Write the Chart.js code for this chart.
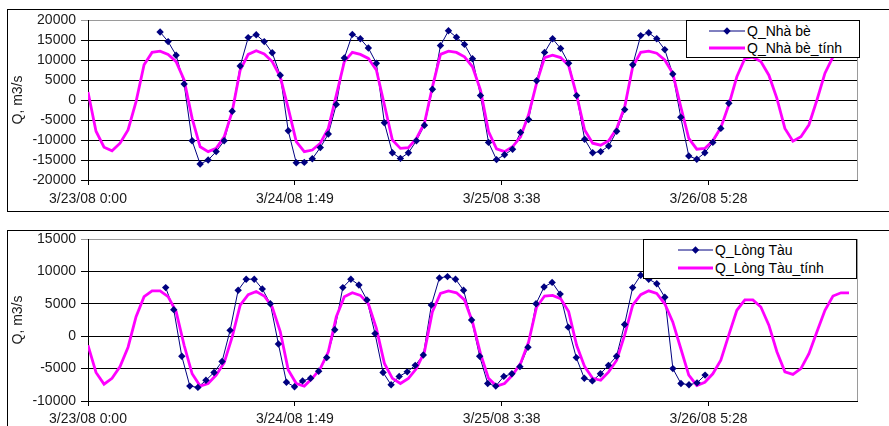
<!DOCTYPE html>
<html><head><meta charset="utf-8">
<script src="https://cdn.jsdelivr.net/npm/chart.js@4/dist/chart.umd.min.js"></script>
<style>
html,body{margin:0;padding:0;background:#fff;width:889px;height:426px;overflow:hidden;font-family:"Liberation Sans",Arial,sans-serif;}
.frame{position:absolute;border:1px solid #000;box-sizing:border-box;}
canvas{position:absolute;left:0;}
.legend{position:absolute;background:#fff;border:1px solid #000;box-sizing:border-box;font-size:14px;color:#000;}
.legend .txt{position:absolute;white-space:nowrap;line-height:16px;height:16px;}
.legend svg{position:absolute;}
</style></head>
<body>
<div class="frame" style="left:7px;top:9px;width:884px;height:203px"></div>
<div class="frame" style="left:7px;top:230px;width:884px;height:210px"></div>
<canvas id="c1" width="889" height="215" style="top:0;width:889px;height:215px"></canvas>
<canvas id="c2" width="889" height="211" style="top:215px;width:889px;height:211px"></canvas>
<script>
// ---- tick labels (x axis, hours from 3/23/08 0:00) ----
const tickHours = [0, 25.8167, 51.6333, 77.4667];
const tickLabels = ['3/23/08 0:00', '3/24/08 1:49', '3/25/08 3:38', '3/26/08 5:28'];

// ---- series names ----
const namesNB = ['Q_Nhà bè', 'Q_Nhà bè_tính'];
const namesLT = ['Q_Lòng Tàu', 'Q_Lòng Tàu_tính'];

// computed series: hourly, hour 0 .. 95
const calcCount = 96;
// Nhà bè computed (m3/s)
const nbCalc = [
  2000, -7800, -11800, -12700, -10800, -7500, -400, 8800, 11900, 12200,
  11400, 9600, 5000, -4600, -11700, -12900, -12100, -9200, -2900, 7500,
  11400, 12300, 11500, 9600, 5800, -2100, -10400, -12900, -12500, -10800,
  -7100, 1200, 9600, 11900, 11400, 10400, 7500, -1200, -10000, -12100,
  -11900, -9600, -5800, 3300, 11400, 12200, 11900, 10800, 8300, 2500,
  -7900, -12200, -12900, -11700, -9200, -3700, 4200, 10600, 11200, 10600,
  8600, 1200, -7500, -10800, -11300, -10200, -7100, -1700, 8300, 11900,
  12200, 11700, 10000, 6700, -1700, -9600, -12300, -12100, -10200, -6900,
  -1200, 5800, 10400, 10700, 9600, 6200, 400, -7100, -10300, -9200,
  -6200, 0, 6700, 10800, 11800, 11500
];
// Nhà bè observed, hourly from hour 9
const nbObsStart = 9, nbObsStep = 1;
const nbObs = [
  17000, 14600, 11200, 4000, -10200, -16000, -15000, -12900, -10200, -2800,
  8500, 15600, 16300, 14600, 11800, 6200, -7700, -15700, -15600, -14700,
  -11900, -8500, -1100, 10500, 16400, 15300, 13000, 9200, -5700, -13200,
  -14600, -13200, -10200, -6300, 2700, 13600, 17300, 15700, 13900, 10300,
  1100, -10600, -14900, -13700, -12300, -8100, -4900, 4800, 11900, 15300,
  12900, 9200, 1100, -9800, -13200, -12900, -11500, -7800, -2400, 8800,
  16100, 16800, 15300, 12600, 6500, -4300, -14000, -14800, -13200, -10600,
  -7100, -800
];
// Lòng Tàu computed (m3/s)
const ltCalc = [
  -1400, -5600, -7400, -6500, -4700, -1700, 3000, 6100, 7000, 7000,
  6100, 3800, -1400, -5800, -7700, -7300, -6000, -4100, -100, 4800,
  6400, 6900, 6200, 4500, 700, -5200, -7300, -7700, -6500, -5000,
  -2400, 3000, 6100, 6700, 6300, 5000, 1200, -4200, -6500, -7300,
  -6500, -5000, -2400, 3800, 6600, 7000, 6700, 5600, 2200, -2700,
  -6500, -7700, -7300, -6000, -4200, -900, 4500, 6200, 6300, 5800,
  3800, -1400, -4700, -6500, -6800, -5500, -3700, 200, 4800, 6400,
  7000, 6600, 5000, 2200, -1900, -6000, -7600, -7100, -5800, -3700,
  200, 4000, 5600, 5600, 4500, 1700, -2400, -5500, -5900, -5000,
  -2700, 700, 4000, 6200, 6700, 6700
];
// Lòng Tàu observed, from hour 9.7
const ltObsStart = 9.7, ltObsStep = 1.005;
const ltObs = [
  7500, 4100, -3100, -7700, -7900, -6800, -5600, -3900, 900, 7100,
  8800, 8800, 7300, 5000, -1200, -7100, -7800, -6900, -6500, -5400,
  -3300, 1000, 7500, 8800, 7900, 5600, 400, -5600, -7500, -6200,
  -5500, -4500, -2900, 4800, 9000, 9200, 8800, 7100, 2500, -3100,
  -7300, -7700, -6200, -5800, -4700, -1700, 5000, 7600, 8300, 6500,
  1400, -3300, -6500, -6900, -5800, -4500, -3100, 1800, 7500, 9400,
  8800, 8100, 6000, -5000, -7300, -7500, -7200, -6000
];

const FONT = 'Liberation Sans, Arial, sans-serif';
Chart.defaults.font.family = FONT;

function toPts(start, step, vals) { return vals.map((v, i) => ({x: start + i * step, y: v})); }

const grayBorder = {
  id: 'grayBorder',
  beforeDatasetsDraw(chart) {
    const a = chart.chartArea, ctx = chart.ctx;
    ctx.save();
    ctx.strokeStyle = '#9a9a9a'; ctx.lineWidth = 1;
    ctx.beginPath();
    ctx.moveTo(Math.round(a.right) + 0.5, a.top);
    ctx.lineTo(Math.round(a.right) + 0.5, a.bottom);
    ctx.stroke();
    ctx.restore();
  }
};

function makeChart(canvas, obs, calc, cfg) {
  return new Chart(canvas, {
    type: 'line',
    data: { datasets: [
      { data: obs, showLine: false, pointStyle: 'rectRot', pointRadius: 3.7, pointHoverRadius: 3.7,
        pointBackgroundColor: '#000080', pointBorderColor: '#000080', pointBorderWidth: 0 },
      { data: calc, borderColor: '#FF00FF', borderWidth: 2.8, pointRadius: 0, tension: 0, fill: false },
      { data: obs, borderColor: '#000080', borderWidth: 1, pointRadius: 0, tension: 0, fill: false }
    ]},
    options: {
      responsive: false, animation: false, devicePixelRatio: 1,
      layout: { padding: { left: 0, right: 32, top: cfg.padTop, bottom: 0 } },
      plugins: { legend: { display: false }, tooltip: { enabled: false } },
      scales: {
        x: {
          type: 'linear', min: 0, max: 96,
          afterFit(s) { s.height = cfg.xH; },
          afterBuildTicks(s) { s.ticks = tickHours.map(v => ({ value: v })); },
          ticks: { autoSkip: false, maxRotation: 0, padding: cfg.xPad, color: '#1a1a1a',
                   font: { family: FONT, size: 14 }, callback: (v, i) => tickLabels[i] },
          grid: { drawOnChartArea: false, drawTicks: true, tickLength: 5, color: '#000' },
          border: { color: '#000', width: 1 }
        },
        y: {
          min: cfg.yMin, max: cfg.yMax,
          afterFit(s) { s.width = 88; },
          ticks: { stepSize: 5000, padding: 5, color: '#1a1a1a', font: { family: FONT, size: 14 },
                   callback: v => String(v) },
          grid: { color: c => (c.tick && c.tick.value === cfg.yMax) ? '#9a9a9a' : '#000', tickLength: 7, lineWidth: 1 },
          border: { color: '#000', width: 1 },
          title: { display: true, text: 'Q, m3/s', color: '#1a1a1a', font: { family: FONT, size: 14 },
                   padding: { top: 10, bottom: 0 } }
        }
      }
    },
    plugins: [grayBorder]
  });
}

const calcHours = [];
for (let h = 0; h < calcCount; h++) calcHours.push(h);
function calcPts(vals) { return vals.map((v, i) => ({ x: calcHours[i], y: v })); }

makeChart(document.getElementById('c1'), toPts(nbObsStart, nbObsStep, nbObs), calcPts(nbCalc),
  { padTop: 20, xH: 35, xPad: 6, yMin: -20000, yMax: 20000 });
makeChart(document.getElementById('c2'), toPts(ltObsStart, ltObsStep, ltObs), calcPts(ltCalc),
  { padTop: 24, xH: 25, xPad: 5, yMin: -10000, yMax: 15000 });

function addLegend(box, names) {
  const d = document.createElement('div');
  d.className = 'legend';
  Object.assign(d.style, { left: box.x + 'px', top: box.y + 'px', width: box.w + 'px', height: box.h + 'px' });
  const L = box.len;
  names.forEach((name, i) => {
    const cy = box.rows[i];
    let svg;
    if (i === 0) {
      const m = L / 2;
      svg = `<svg width="${L}" height="10" style="left:${box.sx}px;top:${cy - 5}px">` +
        `<line x1="0" y1="5" x2="${L}" y2="5" stroke="#000080" stroke-width="1"/>` +
        `<polygon points="${m},1.3 ${m + 3.7},5 ${m},8.7 ${m - 3.7},5" fill="#000080"/></svg>`;
    } else {
      svg = `<svg width="${L}" height="10" style="left:${box.sx}px;top:${cy - 5}px">` +
        `<line x1="0" y1="5" x2="${L}" y2="5" stroke="#FF00FF" stroke-width="3"/></svg>`;
    }
    d.insertAdjacentHTML('beforeend', svg);
    const t = document.createElement('div');
    t.className = 'txt';
    t.textContent = name;
    Object.assign(t.style, { left: box.tx + 'px', top: (cy - 8) + 'px' });
    d.appendChild(t);
  });
  document.body.appendChild(d);
}
addLegend({ x: 686, y: 20, w: 174, h: 38, sx: 22, len: 36, tx: 60, rows: [10, 27] }, namesNB);
addLegend({ x: 643, y: 239, w: 214, h: 40, sx: 34, len: 35, tx: 71, rows: [10, 28] }, namesLT);
</script>
</body></html>
